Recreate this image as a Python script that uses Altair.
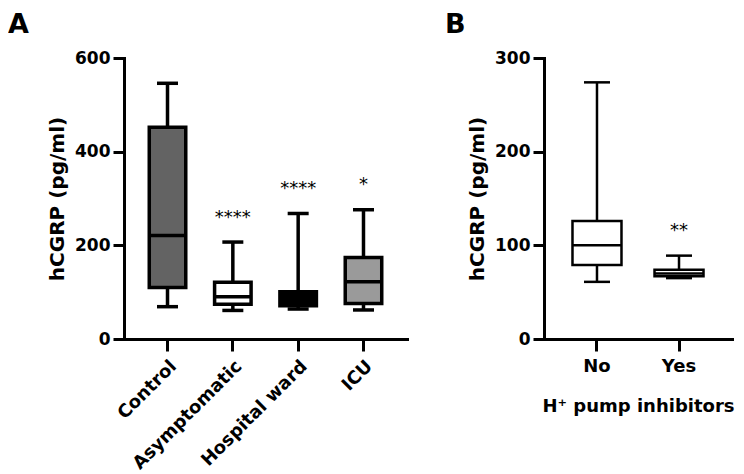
import altair as alt
import pandas as pd

# ---------------- data: panel A ----------------
groups_a = ["Control", "Asymptomatic", "Hospital ward", "ICU"]
min_a = [69, 61, 64, 62]
q1_a = [110, 74, 71, 76]
med_a = [221, 90, 80, 122]
q3_a = [452, 121, 101, 174]
max_a = [546, 207, 268, 276]
fill_a = ["#636363", "#ffffff", "#000000", "#9a9a9a"]
stars_a = ["", "****", "****", "*"]
star_pos_a = [0, 268, 330, 340]

# ---------------- data: panel B ----------------
groups_b = ["No", "Yes"]
min_b = [61, 65]
q1_b = [79, 67]
med_b = [100, 70]
q3_b = [126, 74]
max_b = [274, 89]
fill_b = ["#ffffff", "#ffffff"]
stars_b = ["", "**"]
star_pos_b = [0, 121]

FONT = "DejaVu Sans"


def panel(groups, mins, q1s, meds, q3s, maxs, fills, stars, star_pos,
          letter, letter_dx, ymax, yticks, width, height, box, cap, sw,
          label_angle, xtitle, pad_outer, xlabel_size):
    df = pd.DataFrame({"g": groups, "mn": mins, "q1": q1s, "md": meds,
                       "q3": q3s, "mx": maxs, "fill": fills,
                       "star": stars, "sp": star_pos})
    ysc = alt.Scale(domain=[0, ymax], nice=False, zero=True)
    xaxis = alt.Axis(title=xtitle, labelAngle=label_angle, tickSize=12,
                     labelFontSize=xlabel_size, labelPadding=6,
                     titleFontSize=18, titlePadding=22,
                     labelAlign="right" if label_angle else "center",
                     labelBaseline="top")
    x = alt.X("g:N", sort=groups, scale=alt.Scale(paddingOuter=pad_outer, paddingInner=0),
              axis=xaxis)
    yaxis = alt.Axis(title="hCGRP (pg/ml)", values=yticks, tickSize=11,
                     labelPadding=3, titlePadding=7, labelFontSize=17,
                     titleFontSize=20)
    base = alt.Chart(df).encode(x=x)
    whisk = base.mark_rule(color="black", strokeWidth=sw).encode(
        y=alt.Y("mn:Q", scale=ysc, axis=yaxis), y2="mx:Q")
    cap_lo = base.mark_tick(color="black", size=cap, thickness=sw, opacity=1).encode(
        y=alt.Y("mn:Q", scale=ysc))
    cap_hi = base.mark_tick(color="black", size=cap, thickness=sw, opacity=1).encode(
        y=alt.Y("mx:Q", scale=ysc))
    boxes = base.mark_bar(size=box, stroke="black", strokeWidth=sw, opacity=1).encode(
        y=alt.Y("q1:Q", scale=ysc), y2="q3:Q",
        fill=alt.Fill("fill:N", scale=None))
    med = base.mark_tick(color="black", size=box, thickness=sw, opacity=1).encode(
        y=alt.Y("md:Q", scale=ysc))
    star = base.mark_text(font=FONT, fontSize=18, color="black",
                          baseline="alphabetic", dy=10).encode(
        y=alt.Y("sp:Q", scale=ysc), text="star:N")
    let = alt.Chart(pd.DataFrame({"t": [letter]})).mark_text(
        font=FONT, fontSize=27, fontWeight="bold", color="black",
        align="left", baseline="top").encode(
        text="t:N", x=alt.value(letter_dx), y=alt.value(-45.7))
    return alt.layer(whisk, cap_lo, cap_hi, boxes, med, star, let).properties(
        width=width, height=height)


pa = panel(groups_a, min_a, q1_a, med_a, q3_a, max_a, fill_a, stars_a, star_pos_a,
           "A", -116, 600, [0, 200, 400, 600], 283, 281, 36.5, 21, 3.5,
           -45, None, 0.166, 18)
pb = panel(groups_b, min_b, q1_b, med_b, q3_b, max_b, fill_b, stars_b, star_pos_b,
           "B", -99, 300, [0, 100, 200, 300], 188, 281, 49, 26, 2.5,
           0, "H\u207a pump inhibitors", 0.146, 18)

chart = alt.hconcat(pa, pb, spacing=38).properties(
    padding={"left": 0, "top": 3, "right": 0, "bottom": 0}
).configure_view(stroke=None).configure_axis(
    grid=False, domainColor="black", domainWidth=3, tickColor="black",
    tickWidth=3, labelColor="black", titleColor="black",
    labelFont=FONT, titleFont=FONT, labelFontWeight="bold",
    titleFontWeight="bold", domainCap="square"
)

chart.save("out.html", embed_options={"renderer": "svg", "actions": False})
